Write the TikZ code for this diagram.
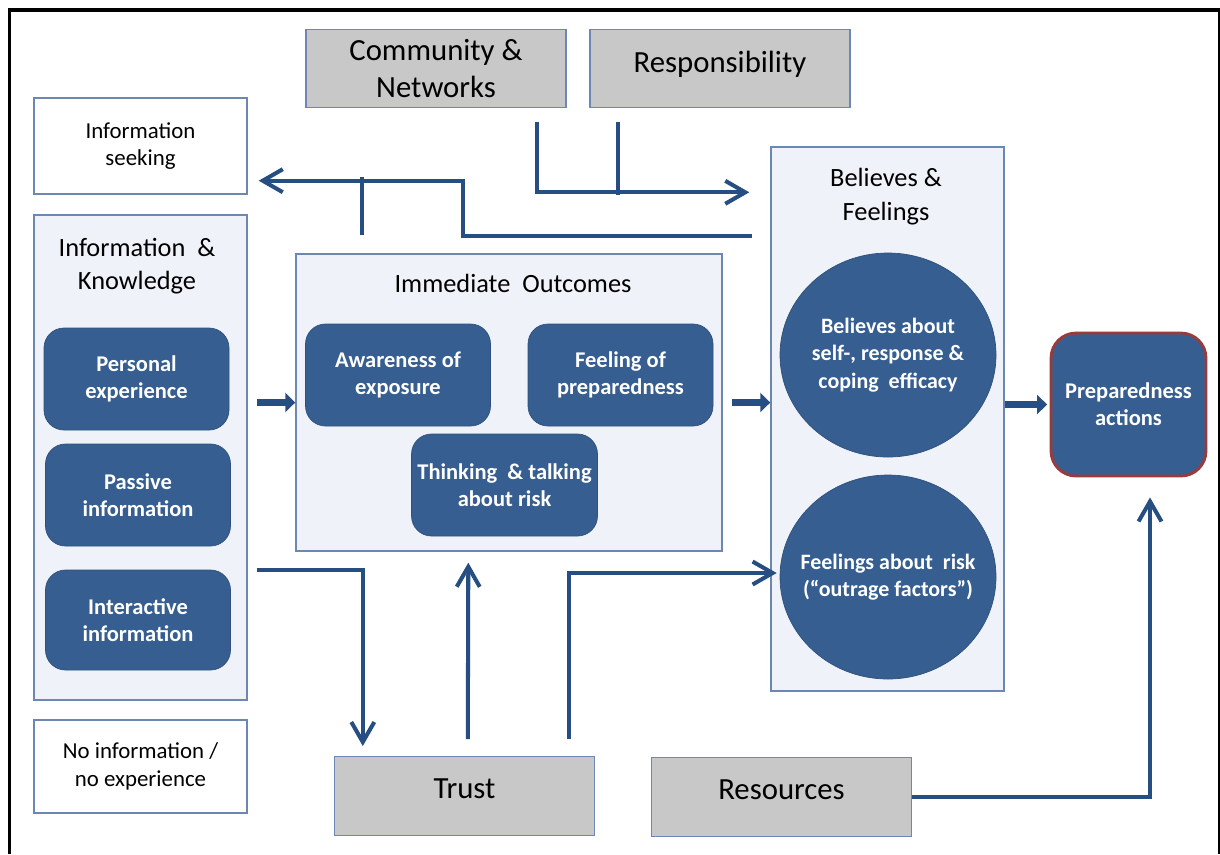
\documentclass[tikz,border=0pt]{standalone}
\usepackage{fontspec}
\setmainfont{Carlito}
\usepackage{tikz}
\usetikzlibrary{positioning,arrows.meta,shapes.geometric,calc}
\definecolor{navy}{RGB}{54,94,144}
\definecolor{flow}{RGB}{38,78,130}
\definecolor{edge}{RGB}{108,136,178}
\definecolor{pale}{RGB}{239,243,249}
\definecolor{stone}{RGB}{200,200,200}
\definecolor{brick}{RGB}{155,58,58}

\begin{document}
\begin{tikzpicture}[
  grp/.style={rectangle, draw=edge, fill=pale, line width=0.8pt, inner sep=0pt},
  note/.style={rectangle, draw=edge, fill=white, line width=0.8pt, align=center,
               font=\fontsize{13}{15.5}\selectfont, minimum width=4.26cm},
  ext/.style={rectangle, draw=edge, fill=stone, line width=0.8pt, align=center,
              font=\fontsize{17.5}{21}\selectfont, minimum width=5.2cm, minimum height=1.57cm},
  lift/.style={text depth=0.28cm},
  blk/.style={rectangle, rounded corners=0.4cm, draw=navy!85!black, fill=navy, text=white,
              font=\bfseries\fontsize{12.8}{15.5}\selectfont, align=center,
              minimum width=3.7cm, minimum height=2.04cm},
  bub/.style={ellipse, draw=navy!85!black, fill=navy, text=white,
              inner xsep=-0.35cm, inner ysep=0pt,
              font=\bfseries\fontsize{12.5}{15.5}\selectfont, align=center,
              minimum width=4.32cm, minimum height=4.08cm},
  ttl/.style={font=\fontsize{15}{19}\selectfont, align=center},
  bar/.style={draw=flow, line width=2.3pt},
  ar/.style={bar, -{Straight Barb[length=0.4cm,width=0.46cm]}},
  fat/.style={draw=flow, line width=4.3pt, -{Triangle[length=0.2cm,width=0.38cm]}},
]
\useasboundingbox (0,0) rectangle (24.4,-17.08);

% page frame
\draw[line width=2.2pt] (0.19,-17.08) -- (0.19,-0.2) -- (24.4,-0.2);
\draw[line width=0.7pt] (24.38,-0.2) -- (24.38,-17.08);

% outer factors
\node[ext] (comm) at ( 8.72,-1.37)  {Community \&\\Networks};
\node[ext, lift] (resp) at (14.40,-1.37)  {Responsibility};
\node[ext, lift] (trust) at ( 9.29,-15.92) {Trust};
\node[ext, lift] (res)  at (15.63,-15.94) {Resources};

% left column
\node[note, minimum height=1.92cm] (seek) at (2.81,-2.92) {Information\\seeking};
\node[grp, minimum width=4.26cm, minimum height=9.7cm] (know) at (2.81,-9.15) {};
\node[ttl] (knowT) at (2.74,-5.32) {Information \ \&\\Knowledge};
\node[blk] (pers)  at (2.73,-7.58) {Personal\\experience};
\node[blk] (pass)  at (2.76,-9.90) {Passive\\information};
\node[blk, minimum height=2.0cm] (inter) at (2.76,-12.40) {Interactive\\information};
\node[note, minimum height=1.86cm] (none) at (2.81,-15.33) {No information /\\no experience};

% immediate outcomes
\node[grp, minimum width=8.52cm, minimum height=5.94cm] (imm) at (10.18,-8.05) {};
\node[ttl] (immT) at (10.26,-5.66) {Immediate \ Outcomes};
\node[blk] (aware) at ( 7.96,-7.50) {Awareness of\\exposure};
\node[blk] (fprep) at (12.41,-7.50) {Feeling of\\preparedness};
\node[blk] (think) at (10.09,-9.70) {Thinking \ \& talking\\about risk};

% believes and feelings
\node[grp, minimum width=4.66cm, minimum height=10.88cm] (bel) at (17.75,-8.38) {};
\node[ttl] (belT) at (17.72,-3.93) {Believes \&\\Feelings};
\node[bub] (effic)   at (17.76,-7.10)  {Believes about\\self-, response \&\\coping \ efficacy};
\node[bub] (outrage) at (17.76,-11.54) {Feelings about \ risk\\(“outrage factors”)};

\node[blk, rounded corners=0.5cm, draw=brick, line width=1.6pt,
      minimum width=3.1cm, minimum height=2.86cm] (prep) at (22.57,-8.09) {Preparedness\\actions};

% main flow
\draw[fat] ($(know.east |- imm.west)+(0.18,0)$) -- (imm.west);
\draw[fat] ($(imm.east)+(0.18,0)$) -- (imm.east -| bel.west);
\draw[fat] (bel.east |- prep.west) -- ($(prep.west)+(-0.05,0)$);

% feedback to information seeking
\coordinate (fb)     at (15.04,-4.72);
\coordinate (fbBend) at ( 9.26,-4.72);
\draw[ar] (fb) -- (fbBend) |- ($(seek.south east)+(0.22,0.28)$);
\draw[bar] ($(imm.north west)+(1.34,0.36)$) -- ++(0,1.16);

% community and responsibility
\draw[ar] ($(comm.south east)+(-0.6,-0.28)$) |- ($(bel.north west)+(-0.42,-0.92)$);
\draw[bar] ($(resp.south west)+(0.58,-0.28)$) -- ++(0,-1.46);

% trust
\draw[ar] ($(know.east)+(0.18,-2.25)$) -| ($(trust.north west)+(0.58,0.2)$);
\draw[ar] ($(trust.north west)+(2.68,0.34)$) -- ($(imm.south west)+(3.46,-0.22)$);
\draw[ar] ($(trust.north west)+(4.7,0.34)$) |- ($(outrage.west)+(-0.06,0.08)$);

% resources
\draw[ar] (res.east) -| ($(prep.south)+(0.43,-0.4)$);
\end{tikzpicture}
\end{document}
